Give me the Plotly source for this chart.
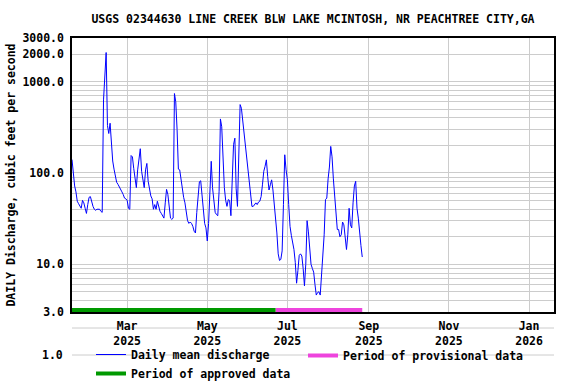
import math
import pandas as pd
import plotly.graph_objects as go

# ---------------- data ----------------
start_date = "2025-01-18"
discharge = [
    140, 100, 72, 62, 49, 46, 43, 41, 50, 47,
    41, 36, 45, 54, 55, 47, 43, 40, 39, 40,
    40, 40, 38, 37, 630, 1400, 2080, 330, 270, 350,
    215, 135, 110, 88, 79, 75, 71, 67, 62, 58,
    53, 52, 50, 41, 40, 155, 150, 112, 88, 69,
    108, 138, 184, 104, 83, 69, 108, 127, 81, 63,
    56, 52, 40, 45, 40, 49, 43, 38, 36, 34,
    32, 47, 66, 58, 41, 32, 31, 32, 740, 600,
    300, 110, 108, 84, 66, 54, 47, 38, 30, 28,
    29, 28, 26, 23, 22, 37, 54, 80, 82, 53,
    36, 28, 25, 18, 28, 69, 134, 69, 45, 37,
    35, 34, 63, 390, 320, 138, 69, 50, 43, 51,
    50, 34, 70, 204, 240, 67, 43, 122, 560, 510,
    366, 280, 215, 139, 96, 69, 51, 43, 43, 45,
    47, 45, 48, 49, 55, 74, 104, 118, 139, 91,
    65, 74, 84, 65, 45, 35, 22, 13, 11, 11.3,
    14, 45, 158, 108, 84, 45, 26, 20.7, 18, 14.5,
    10.5, 6.2, 8.5, 12.5, 13, 12.3, 9, 5.8, 10, 30,
    22.6, 13, 10, 9, 8.2, 6, 4.6, 4.9, 5, 4.6,
    7.8, 12, 21, 51, 53, 86, 116, 195, 150, 86,
    60, 35, 24, 24, 20, 21, 29, 27, 19, 14.5,
    21, 41, 27, 25, 47, 72, 81, 41, 32, 21,
    16, 12,
]
dates = pd.date_range(start_date, periods=len(discharge), freq="D")

approved_period = ["2025-01-18", "2025-06-22"]
provisional_period = ["2025-06-22", "2025-08-27"]

x_range = ["2025-01-18", "2026-01-20"]
x_tick_dates = ["2025-03-01", "2025-05-01", "2025-07-01", "2025-09-01", "2025-11-01", "2026-01-01"]
x_tick_text = ["Mar<br>2025", "May<br>2025", "Jul<br>2025", "Sep<br>2025", "Nov<br>2025", "Jan<br>2026"]

y_min, y_max = 3, 3000
y_grid_vals = [3, 4, 5, 6, 7, 8, 9, 10, 20, 30, 40, 50, 60, 70, 80, 90,
               100, 200, 300, 400, 500, 600, 700, 800, 900, 1000, 2000, 3000]
y_labeled = {3: "3.0", 10: "10.0", 100: "100.0", 1000: "1000.0", 2000: "2000.0", 3000: "3000.0"}
y_tick_text = [y_labeled.get(v, "") for v in y_grid_vals]

title = "USGS 02344630 LINE CREEK BLW LAKE MCINTOSH, NR PEACHTREE CITY,GA"
y_title = "DAILY Discharge, cubic feet per second"

# ---------------- style ----------------
FONT = "DejaVu Sans Mono"
F = dict(family=FONT, size=11.5, color="black", weight="bold")
BAR_LEVEL = 3.15
GRID = "#cccccc"

fig = go.Figure()
fig.add_trace(go.Scatter(
    x=dates, y=discharge, mode="lines", name="Daily mean discharge",
    line=dict(color="#0000ff", width=1), legend="legend", legendrank=1))
fig.add_trace(go.Scatter(
    x=provisional_period, y=[BAR_LEVEL, BAR_LEVEL], mode="lines",
    name="Period of provisional data", line=dict(color="#ee44dd", width=4),
    legend="legend2"))
fig.add_trace(go.Scatter(
    x=approved_period, y=[BAR_LEVEL, BAR_LEVEL], mode="lines",
    name="Period of approved data", line=dict(color="#009900", width=4),
    legend="legend", legendrank=2))

H = 274.0
W = 482.0
def py(px):
    return (312 - px) / H
def pxx(px):
    return (px - 72) / W

for ypx in (328, 355):
    fig.add_shape(type="line", xref="paper", yref="paper", x0=0, x1=1,
                  y0=py(ypx), y1=py(ypx), line=dict(color=GRID, width=1), layer="below")

fig.add_annotation(text="1.0", xref="paper", yref="paper", x=pxx(65),
                   y=py(355), xanchor="right", yanchor="middle", showarrow=False, font=F)

LEG = dict(orientation="v", xanchor="left", yanchor="bottom", font=F,
           bgcolor="rgba(0,0,0,0)", itemwidth=30, tracegroupgap=0)

fig.update_layout(
    width=576, height=384,
    margin=dict(l=72, r=22, t=38, b=72, autoexpand=False),
    paper_bgcolor="white", plot_bgcolor="white",
    font=F,
    title=dict(text=title, x=0.5, xref="paper", xanchor="center",
               y=1 - 19 / 384.0, yanchor="middle", font=F),
    showlegend=True,
    legend=dict(LEG, x=pxx(91), y=py(388)),
    legend2=dict(LEG, x=pxx(303), y=py(370)),
    xaxis=dict(type="date", range=x_range, tickvals=x_tick_dates, ticktext=x_tick_text,
               showgrid=True, gridcolor=GRID, gridwidth=1, ticks="",
               showline=True, mirror=True, linecolor="black", linewidth=1.5,
               tickfont=F, zeroline=False, automargin=False, ticklabelstandoff=2),
    yaxis=dict(type="log", range=[math.log10(y_min), math.log10(y_max)],
               tickvals=y_grid_vals, ticktext=y_tick_text,
               showgrid=True, gridcolor=GRID, gridwidth=1, ticks="",
               showline=True, mirror=True, linecolor="black", linewidth=1.5,
               tickfont=F, ticklabelstandoff=4, automargin=False,
               title=dict(text=y_title, font=F, standoff=4)),
)

fig.write_html("out.html", config={"displayModeBar": False},
               post_script="document.body.style.margin='0';")
